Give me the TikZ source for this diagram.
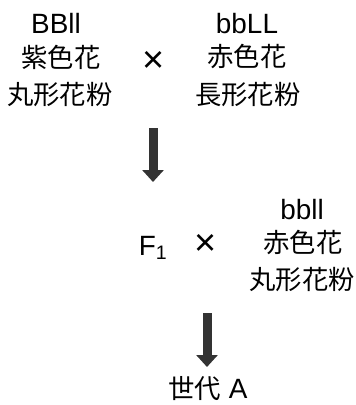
\documentclass[tikz,border=0pt]{standalone}
\usepackage{fontspec}
\setmainfont{Liberation Sans}
\newfontfamily\jpfont{Noto Sans CJK JP}
\usetikzlibrary{arrows.meta}

\begin{document}
\begin{tikzpicture}[
x=1bp,y=-1bp,
Geno/.style={font=\fontsize{28}{32}\selectfont, anchor=base, inner sep=0pt},
Pheno/.style={font=\jpfont\fontsize{26.5}{30}\selectfont, inner sep=0pt},
Cross/.style={font=\fontsize{38}{42}\selectfont, inner sep=0pt},
BigArrow/.style={draw=black!80, line width=9bp, -{Triangle[width=21bp,length=12bp]}}
]
\useasboundingbox (0,0) rectangle (356,405);

% parents
\node[Geno] (p1g) at (56,33) {BBll};
\node[Geno] (p2g) at (247,33) {bbLL};
\node[Pheno] (p1c) at (61,57) {紫色花};
\node[Cross] (x1) at (154,62) {×};
\node[Pheno] (p2c) at (247,57) {赤色花};
\node[Pheno] (p1p) at (60,95) {丸形花粉};
\node[Pheno] (p2p) at (248,95) {長形花粉};

\coordinate (a1s) at (153,128);
\coordinate (a1e) at (153,182);
\draw[BigArrow] (a1s) -- (a1e);

% test cross
\node[Geno] (p3g) at (302,219) {bbll};
\node[Geno] (f1) at (153,255) {F\textsubscript{1}};
\node[Cross] (x2) at (206,245) {×};
\node[Pheno] (p3c) at (303,243) {赤色花};
\node[Pheno] (p3p) at (302,280) {丸形花粉};

\coordinate (a2s) at (207,313);
\coordinate (a2e) at (207,367);
\draw[BigArrow] (a2s) -- (a2e);

\node[Geno] (genA) at (208,398) {{\jpfont\fontsize{26.5}{30}\selectfont 世代} A};
\end{tikzpicture}
\end{document}
